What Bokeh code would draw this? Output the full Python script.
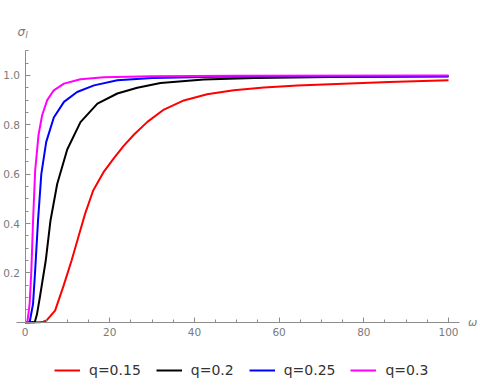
from bokeh.plotting import figure
from bokeh.models import LinearAxis, FixedTicker, Range1d, Legend, LegendItem, Label, NumeralTickFormatter
from bokeh.embed import file_html
from bokeh.resources import INLINE

# --- data ---
omega_q015 = [0, 3.5, 4.3, 5.1, 7.1, 9.0, 11.0, 12.6, 14.2, 16.1, 18.5, 21.0, 23.3, 25.7, 28.9, 32.8, 37.5, 43.0, 49.3, 56.4, 64.3, 72, 86, 100]
sigma_q015 = [0, 0, 0.002, 0.007, 0.047, 0.142, 0.25, 0.345, 0.44, 0.534, 0.607, 0.665, 0.715, 0.76, 0.812, 0.862, 0.899, 0.924, 0.940, 0.951, 0.959, 0.965, 0.974, 0.981]

omega_q02 = [0, 2.3, 2.8, 3.5, 4.9, 6.0, 7.6, 9.97, 13.1, 17.1, 21.8, 26.5, 32.0, 42.2, 54.1, 72, 100]
sigma_q02 = [0, 0, 0.03, 0.10, 0.25, 0.41, 0.56, 0.70, 0.811, 0.886, 0.927, 0.95, 0.97, 0.984, 0.99, 0.994, 0.996]

omega_q025 = [0, 1.1, 1.9, 2.4, 3.07, 3.85, 5.0, 6.8, 9.2, 12.3, 16.3, 21.8, 30, 45, 70, 100]
sigma_q025 = [0, 0, 0.075, 0.21, 0.41, 0.6, 0.73, 0.83, 0.893, 0.933, 0.960, 0.981, 0.99, 0.995, 0.997, 0.998]

omega_q03 = [0, 0.55, 1.1, 1.5, 1.9, 2.4, 3.2, 4.06, 5.24, 6.8, 9.2, 13.1, 18.6, 30, 50, 100]
sigma_q03 = [0, 0, 0.075, 0.21, 0.41, 0.615, 0.76, 0.84, 0.9, 0.94, 0.967, 0.985, 0.993, 0.997, 0.999, 1.0]

labels = ["q=0.15", "q=0.2", "q=0.25", "q=0.3"]
colors = ["#ff0000", "#000000", "#0000ff", "#ff00ff"]

x_major = [0, 20, 40, 60, 80, 100]
x_minor = [5, 10, 15, 25, 30, 35, 45, 50, 55, 65, 70, 75, 85, 90, 95]
y_major = [0.2, 0.4, 0.6, 0.8, 1.0]
y_minor = [0.05, 0.1, 0.15, 0.25, 0.3, 0.35, 0.45, 0.5, 0.55, 0.65, 0.7, 0.75, 0.85, 0.9, 0.95, 1.05, 1.1]

p = figure(width=480, height=389, output_backend="svg", toolbar_location=None,
           x_range=Range1d(-5.785, 107.55), y_range=Range1d(-0.2728, 1.304),
           x_axis_type=None, y_axis_type=None,
           min_border=0)
p.outline_line_color = None
p.xgrid.visible = False
p.ygrid.visible = False
p.background_fill_color = "white"
p.border_fill_color = "white"

axis_color = "#8c8c8c"
label_color = "#7a7a7a"

xa = LinearAxis(ticker=FixedTicker(ticks=x_major, minor_ticks=x_minor), fixed_location=0,
                bounds=(-2.1, 102.6), formatter=NumeralTickFormatter(format="0"))
ya = LinearAxis(ticker=FixedTicker(ticks=y_major, minor_ticks=y_minor), fixed_location=0,
                bounds=(0, 1.102), formatter=NumeralTickFormatter(format="0.0"))
for ax in (xa, ya):
    ax.axis_line_color = axis_color
    ax.axis_line_width = 1
    ax.major_tick_line_color = axis_color
    ax.minor_tick_line_color = axis_color
    ax.major_tick_in = 5
    ax.major_tick_out = 0
    ax.minor_tick_in = 3
    ax.minor_tick_out = 0
    ax.major_label_text_color = label_color
    ax.major_label_text_font = "DejaVu Sans"
    ax.major_label_text_font_size = "10.5px"
xa.major_label_standoff = 6
ya.major_label_standoff = 5
p.add_layout(xa, "below")
p.add_layout(ya, "left")

renderers = []
for xs, ys, c in [(omega_q015, sigma_q015, colors[0]), (omega_q02, sigma_q02, colors[1]),
                  (omega_q025, sigma_q025, colors[2]), (omega_q03, sigma_q03, colors[3])]:
    r = p.line(xs, ys, line_color=c, line_width=2, line_join="round")
    renderers.append(r)

legend = Legend(items=[LegendItem(label=l, renderers=[r]) for l, r in zip(labels, renderers)],
                orientation="horizontal", location=(54, 9),
                label_text_font="DejaVu Sans", label_text_font_size="14px",
                label_text_color="#333333", glyph_width=26, label_standoff=9, spacing=15,
                border_line_color=None, background_fill_alpha=0, padding=0, margin=0)
p.add_layout(legend, "center")

p.add_layout(Label(x=104.6, y=0, text="ω", text_font="DejaVu Sans", text_font_style="italic",
                   text_font_size="11px", text_color=label_color, text_baseline="middle"))
p.add_layout(Label(x=-1.77, y=1.175, text="σ", text_font="DejaVu Sans", text_font_style="italic",
                   text_font_size="12px", text_color=label_color, text_baseline="middle"))
p.add_layout(Label(x=0.12, y=1.163, text="I", text_font="DejaVu Sans", text_font_style="italic",
                   text_font_size="8px", text_color=label_color, text_baseline="middle"))

open("out.html", "w").write(file_html(p, INLINE))
